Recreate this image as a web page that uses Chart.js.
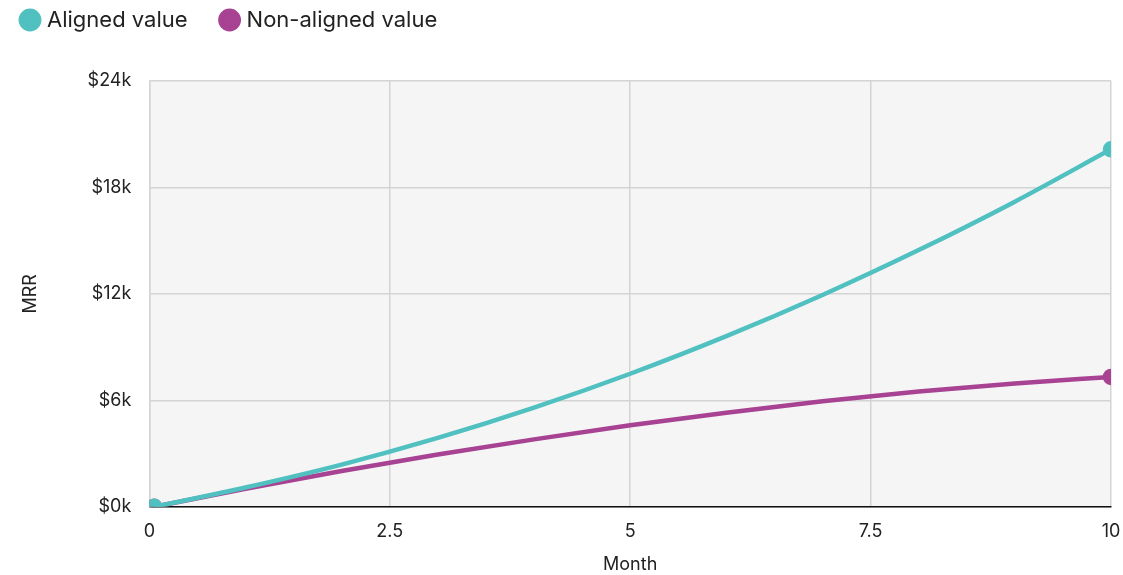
<!DOCTYPE html>
<html>
<head>
<meta charset="utf-8">
<title>MRR by month</title>
<script src="https://cdn.jsdelivr.net/npm/chart.js@4.4.1/dist/chart.umd.min.js"></script>
<style>
  html, body { margin: 0; padding: 0; background: #ffffff; }
  #wrap { width: 1123px; height: 575px; position: relative; }
</style>
</head>
<body>
<div id="wrap"><canvas id="mrrChart"></canvas></div>
<script>
// Months since start
const months = [0.05, 1, 2, 3, 4, 5, 6, 7, 8, 9, 10];
// MRR in dollars
const alignedValue = [0, 1090, 2380, 3880, 5590, 7500, 9620, 11940, 14470, 17200, 20150];
const nonAlignedValue = [0, 1020, 2020, 2950, 3800, 4600, 5300, 5950, 6500, 6950, 7320];
const xTicks = [0, 2.5, 5, 7.5, 10];
const yTicks = [0, 6000, 12000, 18000, 24000];

const FONT = 'Inter, "Noto Sans", sans-serif';

// only first and last month get a dot
const endDots = months.map((m, i) => (i === 0 || i === months.length - 1) ? 6 : 0);

const toPoints = (vals) => months.map((m, i) => ({ x: m, y: vals[i] }));

// grey plot background
const plotBg = {
  id: 'plotBg',
  beforeDraw(chart) {
    const { ctx, chartArea: a } = chart;
    ctx.save();
    ctx.fillStyle = '#f5f5f5';
    ctx.fillRect(a.left, a.top, a.right - a.left, a.bottom - a.top);
    ctx.restore();
  }
};

// extra room under the legend
const legendGap = {
  id: 'legendGap',
  beforeInit(chart) {
    const fit = chart.legend.fit;
    chart.legend.fit = function () {
      fit.bind(chart.legend)();
      this.height += 40;
    };
  }
};

new Chart(document.getElementById('mrrChart'), {
  type: 'line',
  data: {
    datasets: [
      {
        label: 'Aligned value',
        data: toPoints(alignedValue),
        borderColor: '#50c0c0',
        backgroundColor: '#50c0c0',
        borderWidth: 4.5,
        pointRadius: endDots,
        pointHoverRadius: endDots,
        tension: 0.4,
        cubicInterpolationMode: 'monotone'
      },
      {
        label: 'Non-aligned value',
        data: toPoints(nonAlignedValue),
        borderColor: '#a84292',
        backgroundColor: '#a84292',
        borderWidth: 4.5,
        pointRadius: endDots,
        pointHoverRadius: endDots,
        tension: 0.4,
        cubicInterpolationMode: 'monotone'
      }
    ]
  },
  options: {
    responsive: true,
    maintainAspectRatio: false,
    animation: false,
    layout: { padding: { left: -12, right: 0, top: -27, bottom: 0 } },
    plugins: {
      legend: {
        position: 'top',
        align: 'start',
        labels: {
          usePointStyle: true,
          pointStyle: 'circle',
          boxWidth: 12,
          boxHeight: 13,
          padding: 36,
          color: '#222222',
          font: { family: FONT, size: 22 }
        }
      },
      tooltip: { enabled: false }
    },
    scales: {
      x: {
        type: 'linear',
        min: 0,
        max: 10,
        afterBuildTicks(axis) { axis.ticks = xTicks.map(v => ({ value: v })); },
        // keep the "10" label tight to the right edge
        afterFit(axis) { axis.paddingRight = 12; },
        grid: { color: '#d4d4d4', lineWidth: 1.5, drawTicks: false },
        border: { color: '#111111', width: 1.5 },
        ticks: {
          padding: 14,
          color: '#222222',
          font: { family: FONT, size: 18 }
        },
        title: {
          display: true,
          text: 'Month',
          color: '#222222',
          padding: { top: -3, bottom: 0 },
          font: { family: FONT, size: 18 }
        }
      },
      y: {
        min: 0,
        max: 24000,
        afterBuildTicks(axis) { axis.ticks = yTicks.map(v => ({ value: v })); },
        grid: { color: '#d4d4d4', lineWidth: 1.5, drawTicks: false },
        border: { color: '#d4d4d4', width: 1.5 },
        ticks: {
          padding: 18,
          color: '#222222',
          font: { family: FONT, size: 18 },
          callback: (v) => '$' + (v / 1000) + 'k'
        },
        title: {
          display: true,
          text: 'MRR',
          color: '#222222',
          padding: { top: 32, bottom: 28 },
          font: { family: FONT, size: 18 }
        }
      }
    }
  },
  plugins: [plotBg, legendGap]
});
</script>
</body>
</html>
